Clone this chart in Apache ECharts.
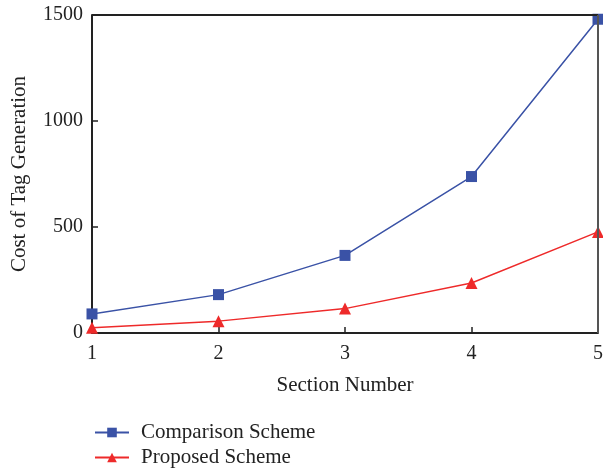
<!DOCTYPE html>
<html>
<head>
<meta charset="utf-8">
<script src="https://cdn.jsdelivr.net/npm/echarts@6/dist/echarts.min.js"></script>
<style>
  html, body { margin: 0; padding: 0; background: #fff; }
  #chart { width: 603px; height: 470px; }
</style>
</head>
<body>
<div id="chart"></div>
<script>
// Tag generation cost per section count
const sections = [1, 2, 3, 4, 5];
const comparisonCost = [90, 181, 366, 738, 1480];
const proposedCost = [25, 56, 115, 236, 477];
const yTicks = [0, 500, 1000, 1500];

const font = 'Liberation Serif';
const ink = '#222';

function legendRow(name, top) {
  return {
    orient: 'vertical',
    left: 94,
    top: top,
    padding: 0,
    itemWidth: 34,
    itemHeight: 12,
    textStyle: { fontFamily: font, fontSize: 21, color: ink, padding: [0, 0, 0, 7] },
    data: [name]
  };
}

const chart = echarts.init(document.getElementById('chart'));
chart.setOption({
  animation: false,
  backgroundColor: '#ffffff',
  grid: { left: 92, right: 5, top: 15, bottom: 137, containLabel: false, outerBoundsMode: 'none' },
  xAxis: {
    type: 'value',
    min: sections[0],
    max: sections[sections.length - 1],
    interval: 1,
    name: 'Section Number',
    nameLocation: 'middle',
    nameGap: 42,
    nameTextStyle: { fontFamily: font, fontSize: 21, color: ink },
    axisLine: { show: true, lineStyle: { color: ink, width: 2 } },
    axisTick: { show: true, inside: true, length: 6, lineStyle: { color: ink, width: 1.5 } },
    axisLabel: { fontFamily: font, fontSize: 20, color: ink, margin: 11 },
    splitLine: { show: false }
  },
  yAxis: {
    type: 'value',
    min: yTicks[0],
    max: yTicks[yTicks.length - 1],
    interval: 500,
    name: 'Cost of Tag Generation',
    nameLocation: 'middle',
    nameGap: 62,
    nameTextStyle: { fontFamily: font, fontSize: 21, color: ink },
    axisLine: { show: true, lineStyle: { color: ink, width: 2 } },
    axisTick: { show: true, inside: true, length: 6, lineStyle: { color: ink, width: 1.5 } },
    axisLabel: { fontFamily: font, fontSize: 20, color: ink, margin: 9, formatter: v => String(v) },
    splitLine: { show: false }
  },
  legend: [
    legendRow('Comparison Scheme', 422),
    legendRow('Proposed Scheme', 447)
  ],
  series: [
    {
      name: 'Comparison Scheme',
      type: 'line',
      data: sections.map((s, i) => [s, comparisonCost[i]]),
      symbol: 'rect',
      symbolSize: 11,
      lineStyle: { color: '#3a52a6', width: 1.5 },
      itemStyle: { color: '#3a52a6' },
      z: 3
    },
    {
      name: 'Proposed Scheme',
      type: 'line',
      data: sections.map((s, i) => [s, proposedCost[i]]),
      symbol: 'triangle',
      symbolSize: 12,
      lineStyle: { color: '#ee2a2a', width: 1.5 },
      itemStyle: { color: '#ee2a2a' },
      z: 4
    }
  ],
  graphic: [
    {
      type: 'line',
      shape: { x1: 92, y1: 15, x2: 598, y2: 15 },
      style: { stroke: ink, lineWidth: 2 },
      z: 10
    },
    {
      type: 'line',
      shape: { x1: 598, y1: 15, x2: 598, y2: 333 },
      style: { stroke: '#555', lineWidth: 2 },
      z: 10
    }
  ]
});
</script>
</body>
</html>
